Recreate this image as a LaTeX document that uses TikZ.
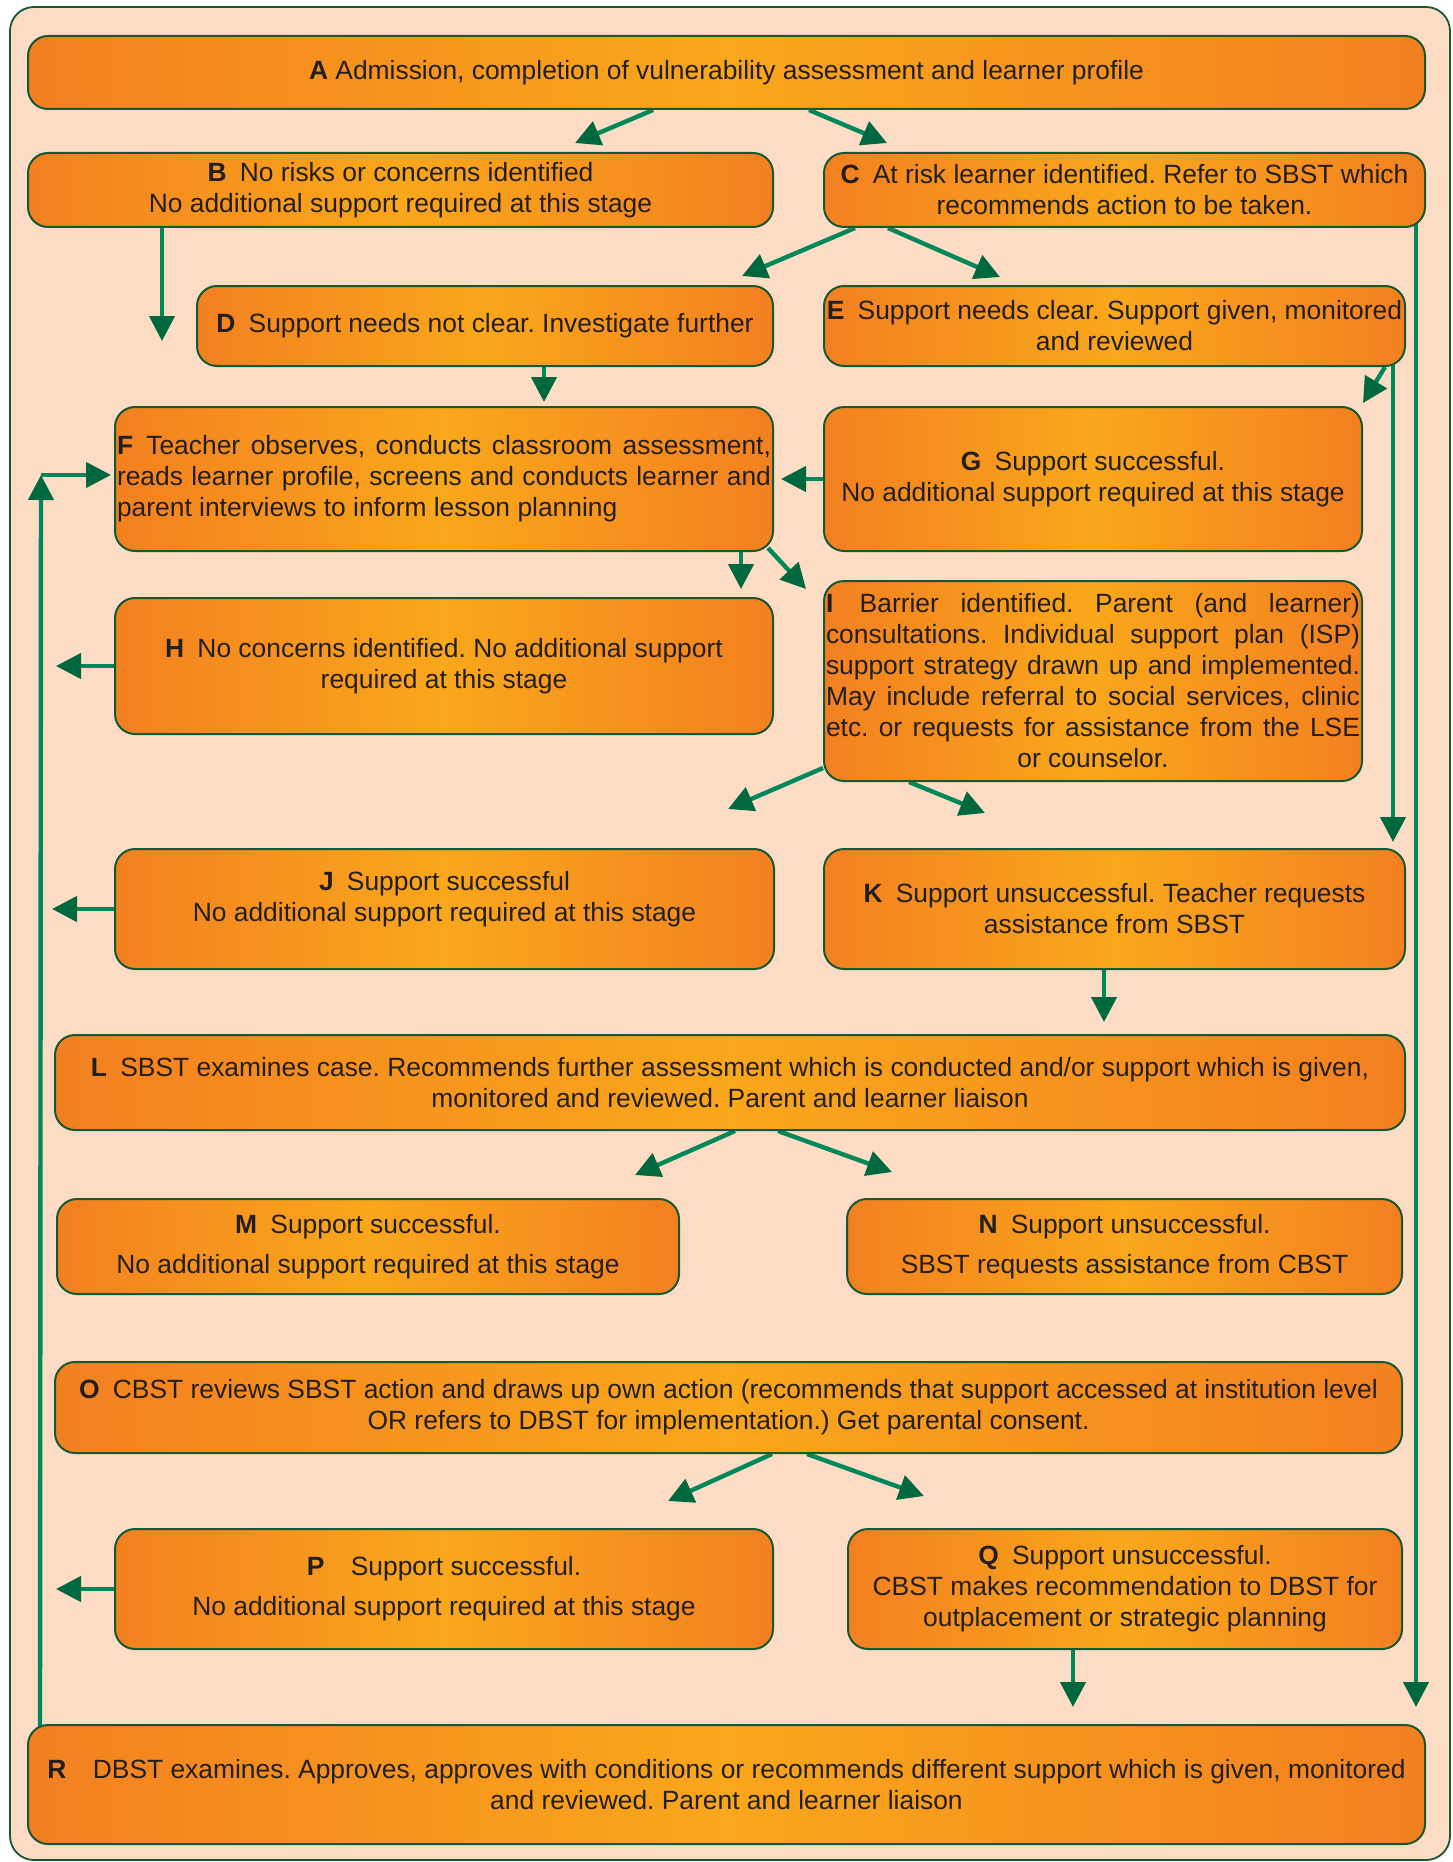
\documentclass[tikz,border=0pt]{standalone}
\usepackage{fontspec}
\setmainfont{Liberation Sans}
\usepackage{xcolor}
\usetikzlibrary{arrows.meta,backgrounds}

\definecolor{peach}{RGB}{253,220,198}
\definecolor{orangedk}{RGB}{243,128,32}
\definecolor{orangelt}{RGB}{249,167,27}
\definecolor{boxgreen}{RGB}{22,88,50}
\definecolor{flowgreen}{RGB}{0,135,90}
\definecolor{tipgreen}{RGB}{0,104,62}
\definecolor{inkdark}{RGB}{35,31,32}

\begin{document}
\begin{tikzpicture}[
  x=0.5pt, y=-0.5pt,
  stage/.style={draw=boxgreen, line width=1pt, rounded corners=10pt, left color=orangedk, right color=orangedk, middle color=orangelt, text=inkdark, inner sep=0pt, align=center, font=\fontsize{13.2}{15.5}\selectfont\frenchspacing},
  justified/.style={align=justify, execute at begin node={\tolerance=10000\hyphenpenalty=10000}},
  flow/.style={draw=flowgreen, line width=2.2pt, -{Triangle[width=12.5pt,length=12.5pt,color=tipgreen]}},
]
  \useasboundingbox (0,0) rectangle (1452,1862);

  % Frame
  \begin{scope}[on background layer]
    \draw[draw=boxgreen, fill=peach, line width=0.9pt, rounded corners=12pt] (10,7) rectangle (1450,1860);
  \end{scope}

  % Stages
  \node[stage, minimum width=698.5pt, minimum height=36.5pt] (admit) at (726.5,72.5) {\textbf{A} Admission, completion of vulnerability assessment and learner profile};
  \node[stage, minimum width=372.5pt, minimum height=37pt] (norisk) at (400.5,190) {\textbf{B}\enspace No risks or concerns identified\\No additional support required at this stage};
  \node[stage, minimum width=300.5pt, minimum height=37pt] (atrisk) at (1124.5,190) {\textbf{C}\enspace At risk learner identified. Refer to SBST which\\recommends action to be taken.};
  \node[stage, minimum width=288pt, minimum height=40pt] (notclear) at (485,326) {\textbf{D}\enspace Support needs not clear. Investigate further};
  \node[stage, minimum width=290.5pt, minimum height=40pt] (clear) at (1114.5,326) {\textbf{E}\enspace Support needs clear. Support given, monitored\\and reviewed};
  \node[stage, justified, text width=327pt, minimum width=329pt, minimum height=72pt] (teacher) at (444,479) {\textbf{F}\enspace Teacher observes, conducts classroom assessment,\linebreak reads learner profile, screens and conducts learner and\linebreak parent interviews to inform lesson planning};
  \node[stage, minimum width=269pt, minimum height=72pt] (okG) at (1093,479) {\textbf{G}\enspace Support successful.\\No additional support required at this stage};
  \node[stage, minimum width=329pt, minimum height=68pt] (noconcern) at (444,666) {\textbf{H}\enspace No concerns identified. No additional support\\required at this stage};
  \node[stage, justified, text width=267pt, minimum width=269pt, minimum height=100pt] (barrier) at (1093,681) {\textbf{I}\quad Barrier identified. Parent (and learner)\linebreak consultations. Individual support plan (ISP)\linebreak support strategy drawn up and implemented.\linebreak May include referral to social services, clinic\linebreak etc. or requests for assistance from the LSE\linebreak\null\hfill or counselor.\hfill\null};
  \node[stage, minimum width=329.5pt, minimum height=60pt] (okJ) at (444.5,909) {\textbf{J}\enspace Support successful\\No additional support required at this stage\\[-2.5pt]};
  \node[stage, minimum width=290.5pt, minimum height=60pt] (failK) at (1114.5,909) {\textbf{K}\enspace Support unsuccessful. Teacher requests\\assistance from SBST};
  \node[stage, minimum width=675pt, minimum height=47.5pt] (sbst) at (730,1082.5) {\textbf{L}\enspace SBST examines case. Recommends further assessment which is conducted and/or support which is given,\\monitored and reviewed. Parent and learner liaison};
  \node[stage, minimum width=311pt, minimum height=47.5pt] (okM) at (368,1246.5) {\textbf{M}\enspace Support successful.\\[4.5pt]No additional support required at this stage};
  \node[stage, minimum width=277.5pt, minimum height=47.5pt] (failN) at (1124.5,1246.5) {\textbf{N}\enspace Support unsuccessful.\\[4.5pt]SBST requests assistance from CBST};
  \node[stage, minimum width=673.5pt, minimum height=45.5pt] (cbst) at (728.5,1407.5) {\textbf{O}\enspace CBST reviews SBST action and draws up own action (recommends that support accessed at institution level\\OR refers to DBST for implementation.) Get parental consent.};
  \node[stage, minimum width=329pt, minimum height=60pt] (okP) at (444,1589) {\textbf{P}\quad Support successful.\\[4.5pt]No additional support required at this stage};
  \node[stage, minimum width=277pt, minimum height=60pt] (failQ) at (1125,1589) {\textbf{Q}\enspace Support unsuccessful.\\CBST makes recommendation to DBST for\\outplacement or strategic planning};
  \node[stage, minimum width=698.5pt, minimum height=59.5pt] (dbst) at (726.5,1784.5) {\textbf{R}\quad DBST examines. Approves, approves with conditions or recommends different support which is given, monitored\\and reviewed. Parent and learner liaison};

  \coordinate (loop) at (41,475);

  % Arrows
  \begin{scope}[on background layer]
    \draw[flow] ([xshift=-36.75pt]admit.south) -- ++(-78,33);
    \draw[flow] ([xshift=41.25pt]admit.south) -- ++(78,33);
    \draw[flow] ([xshift=-119.25pt]norisk.south) -- ++(0,113);
    \draw[flow] ([xshift=-134.75pt]atrisk.south) -- ++(-113,48);
    \draw[flow] ([xshift=-118.25pt]atrisk.south) -- ++(112,49);
    \draw[flow, shorten >=8.5pt] ([xshift=145.75pt,yshift=5pt]atrisk.south) -- ([xshift=145.75pt]atrisk.south |- dbst.north);
    \draw[flow, shorten >=3pt] ([xshift=139.25pt,yshift=5pt]clear.south) -- ([xshift=139.25pt]clear.south |- failK.north);
    \draw[flow] ([xshift=135.25pt]clear.south) -- ++(-22,36);
    \draw[flow, shorten >=2pt] ([xshift=29.5pt]notclear.south) -- ([xshift=29.5pt]notclear.south |- teacher.north);
    \draw[flow, shorten >=3.5pt] (okG.west) -- (teacher.east);
    \draw[flow, shorten >=4pt] ([xshift=148.5pt]teacher.south) -- ([xshift=148.5pt]teacher.south |- noconcern.north);
    \draw[flow] ([xshift=-3pt,yshift=2pt]teacher.south east) -- ++(38,41);
    \draw[flow] (noconcern.west) -- ++(-58,0);
    \draw[flow] ([yshift=7pt]barrier.south west) -- ++(-95,41);
    \draw[flow] ([xshift=-92pt]barrier.south) -- ++(76,31);
    \draw[flow] (okJ.west) -- ++(-62,0);
    \draw[flow, shorten >=6pt] ([xshift=-5.25pt]failK.south) -- ([xshift=-5.25pt]failK.south |- sbst.north);
    \draw[flow] ([xshift=2.5pt]sbst.south) -- ++(-100,44);
    \draw[flow] ([xshift=24pt]sbst.south) -- ++(114,41);
    \draw[flow] ([xshift=21.75pt]cbst.south) -- ++(-104,47);
    \draw[flow] ([xshift=39.25pt]cbst.south) -- ++(117,42);
    \draw[flow] (okP.west) -- ++(-58,0);
    \draw[flow, shorten >=8.5pt] ([xshift=-26pt]failQ.south) -- ([xshift=-26pt]failQ.south |- dbst.north);
    \draw[flow] ([xshift=6.5pt,yshift=-3pt]dbst.north west) -- (loop);
    \draw[flow, shorten >=1.5pt] (loop) -- (loop -| teacher.west);
  \end{scope}
\end{tikzpicture}
\end{document}
